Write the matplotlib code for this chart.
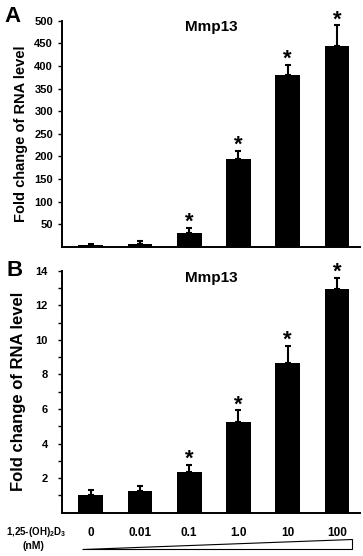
import matplotlib
matplotlib.use("Agg")
import matplotlib.pyplot as plt
import numpy as np
from matplotlib.patches import Polygon
from matplotlib.transforms import blended_transform_factory

plt.rcParams["font.family"] = ["Liberation Sans", "DejaVu Sans"]
plt.rcParams["font.weight"] = "bold"
plt.rcParams["mathtext.fontset"] = "custom"
plt.rcParams["mathtext.rm"] = "Liberation Sans:bold"
plt.rcParams["mathtext.it"] = "Liberation Sans:bold"

# data
conc_labels = ["0", "0.01", "0.1", "1.0", "10", "100"]
a_mean = [4, 7, 32, 195, 381, 443]
a_err = [2, 6, 11, 17, 22, 47]
b_mean = [1.02, 1.27, 2.35, 5.22, 8.67, 12.93]
b_err = [0.30, 0.28, 0.40, 0.70, 0.98, 0.67]
significant = [False, False, True, True, True, True]

W, H = 363, 556
fig = plt.figure(figsize=(W / 100, H / 100), dpi=100, facecolor="w")


def px_axes(left, top, right, bottom):
    return fig.add_axes([left / W, 1 - bottom / H, (right - left) / W, (bottom - top) / H])


ax_a = px_axes(62, 20.7, 360, 247)
ax_b = px_axes(62, 270.7, 360, 512.7)

x = np.arange(len(conc_labels))


def draw_panel(ax, mean, err, ymax, yticks, minor, label_size, label_x, ypad):
    ax.bar(x, mean, width=0.5, color="black", zorder=2)
    ax.errorbar(x, mean, yerr=[np.zeros(len(err)), err], fmt="none",
                ecolor="black", elinewidth=1.5, capsize=2, capthick=1.5, zorder=3)
    for xi, m, e, s in zip(x, mean, err, significant):
        if s:
            ax.annotate("*", xy=(xi, m + e), xytext=(0, 0), textcoords="offset points",
                        ha="center", va="baseline", fontsize=16, fontweight="bold")
    ax.set_xlim(-0.585, 5.47)
    ax.set_ylim(0, ymax)
    ax.spines["top"].set_visible(False)
    ax.spines["right"].set_visible(False)
    ax.spines["left"].set_linewidth(1.4)
    ax.spines["bottom"].set_linewidth(1.4)
    ax.set_yticks(yticks)
    if minor is not None:
        ax.set_yticks(minor, minor=True)
    ax.tick_params(axis="y", which="both", length=3, width=1, pad=ypad, labelsize=8)
    ax.tick_params(axis="x", length=0)
    ax.set_ylabel("Fold change of RNA level", fontsize=label_size, fontweight="bold")
    ax.yaxis.set_label_coords(label_x, 0.5)
    ax.text(0.5, 0.955, "Mmp13", transform=ax.transAxes, ha="center", va="baseline",
            fontsize=11, fontweight="bold")


draw_panel(ax_a, a_mean, a_err, 500, np.arange(50, 501, 50), None, 10.5, -0.115, 3.5)
ax_a.set_xticks(x, labels=[""] * len(x))

draw_panel(ax_b, b_mean, b_err, 14, np.arange(2, 15, 2), np.arange(1, 14, 2), 12, -0.12, 7)
ax_b.set_xticks(x, labels=conc_labels)
ax_b.tick_params(axis="x", length=0, pad=10, labelsize=8.5)

# panel letters
fig.text(4 / W, 1 - 22 / H, "A", fontsize=16, fontweight="bold", ha="left", va="baseline")
fig.text(6 / W, 1 - 276 / H, "B", fontsize=16, fontweight="bold", ha="left", va="baseline")

# concentration label
fig.text(36 / W, 1 - 532 / H, r"1,25-(OH)$_2$D$_3$", fontsize=7, fontweight="bold",
         ha="center", va="center")
fig.text(33.5 / W, 1 - 546 / H, "(nM)", fontsize=7.5, fontweight="bold",
         ha="center", va="center")

# dose wedge under the x axis
trans = blended_transform_factory(ax_b.transData, ax_b.transAxes)
wedge = Polygon([(-0.18, -0.15), (5.31, -0.15), (5.31, -0.109)], closed=True,
                facecolor="white", edgecolor="black", linewidth=0.8,
                transform=trans, clip_on=False)
ax_b.add_patch(wedge)

plt.savefig("out.png", dpi=100, facecolor="w")
